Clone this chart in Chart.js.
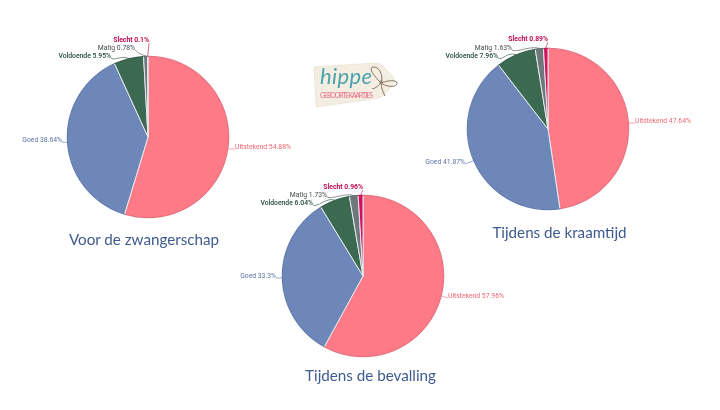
<!DOCTYPE html>
<html><head><meta charset="utf-8">
<script src="https://cdn.jsdelivr.net/npm/chart.js@4"></script>
<style>
html,body{margin:0;padding:0;background:#fff;width:720px;height:410px;overflow:hidden;position:relative}
canvas{position:absolute;filter:blur(.3px)}
.t{position:absolute;font-family:Lato,sans-serif;color:#3f5a8e;font-size:15.2px;white-space:nowrap;transform:translateX(-50%);line-height:20px}
svg{position:absolute;left:300px;top:50px;filter:blur(.3px)}
</style></head><body>
<canvas id="c1"></canvas><canvas id="c2"></canvas><canvas id="c3"></canvas>
<div class="t" style="left:144px;top:229px" id="t1"></div>
<div class="t" style="left:559.5px;top:222px" id="t2"></div>
<div class="t" style="left:370.5px;top:365px" id="t3"></div>
<svg width="110" height="70" viewBox="300 50 110 70">
 <path d="M314 67 L375 63 Q380 63 384 67 L393 77 Q396 81 392 85 L384 95 Q381 98 376 98.500 L316 107 Z" fill="#f3eee1" stroke="#e2dbc9" stroke-width=".6"/>
 <circle cx="381" cy="82" r="2" fill="#b9b2a4"/>
 <g fill="none" stroke="#8c7560" stroke-width="1">
  <path d="M381 83 C374 76 368 68 373 67 C379 66 384 76 381 83 C386 81 396 79 397 83 C397 88 386 87 381 83 C381 87 383 92 385 96"/>
  <path d="M381 83 C377 87 373 90 372 88"/>
 </g>
 <text x="320" y="84" font-family="Lato" font-style="italic" font-weight="400" font-size="22" fill="#4ba3ac" textLength="52">hippe</text>
 <text x="320" y="98" font-family="Lato" font-size="7" fill="#e86f88" textLength="53">GEBOORTEKAARTJES</text>
</svg>
<script>
const categories = ["Uitstekend","Goed","Voldoende","Matig","Slecht"];
const titles = ["Voor de zwangerschap","Tijdens de kraamtijd","Tijdens de bevalling"];
const voorValues = [54.88,38.64,5.95,0.78,0.1];
const kraamValues = [47.64,41.87,7.96,1.63,0.89];
const bevallingValues = [57.96,33.3,6.04,1.73,0.96];

const fills = ["#ff7a87","#6d87b9","#3b6a50","#6e7779","#d80f5c"];
const rims = ["#e96a76","#5a74a8","#2f5a43","#5c6567","#b50d4d"];
const textColors = ["#ee6673","#5a74a8","#21493a","#444c4e","#c00a52"];
const W = 320, H = 210, R = 81.6;

// label anchors relative to the pie centre: [x, y, side]
const anchors = [
 {cx:148,cy:137,a:[[87,10,1],[-86,3,-1],[-37,-81,-1],[-13,-89,-1],[1,-97,-1]]},
 {cx:548,cy:129,a:[[87,-8,1],[-83,33,-1],[-50,-73,-1],[-36,-81,-1],[0,-90,-1]]},
 {cx:363,cy:276,a:[[85,20,1],[-87,0,-1],[-50,-73,-1],[-36,-81,-1],[0,-89,-1]]}
];

const labelPlugin = {
 id:'pieLabels',
 afterDatasetsDraw(chart, args, opts){
  const ctx = chart.ctx, meta = chart.getDatasetMeta(0), ds = chart.data.datasets[0];
  meta.data.forEach((el,i)=>{
   const p = el.getProps(['x','y','startAngle','endAngle','outerRadius'],true);
   ctx.save();
   ctx.beginPath();
   ctx.arc(p.x,p.y,p.outerRadius-.4,p.startAngle,p.endAngle);
   ctx.strokeStyle = rims[i]; ctx.lineWidth = 1; ctx.stroke();
   const mid = (p.startAngle+p.endAngle)/2;
   const ex = p.x+Math.cos(mid)*p.outerRadius, ey = p.y+Math.sin(mid)*p.outerRadius;
   const [ax,ay,side] = opts.a[i];
   const lx = p.x+ax, ly = p.y+ay;
   ctx.beginPath();
   if(i===4){ ctx.moveTo(lx,ly+3); ctx.lineTo(ex,ey); }
   else if(i<2){ ctx.moveTo(lx,ly+2); ctx.lineTo(ex,ey); }
   else { ctx.moveTo(lx,ly+2);
     ctx.bezierCurveTo(lx+4,ly+5,ex-8,ey-3,ex,ey); }
   ctx.strokeStyle = textColors[i]; ctx.lineWidth = .6; ctx.stroke();
   ctx.font = (i===4?'700 ':(i===2?'500 ':'400 '))+'6.8px Roboto, sans-serif';
   ctx.fillStyle = textColors[i];
   ctx.textBaseline = 'middle';
   ctx.textAlign = side>0?'left':'right';
   ctx.fillText(categories[i]+' '+ds.data[i]+'%', lx, ly);
   ctx.restore();
  });
 }
};

function makePie(id, values, pos, title, tid){
 const cv = document.getElementById(id);
 cv.width = W; cv.height = H;
 cv.style.cssText = `left:${pos.cx-W/2}px;top:${pos.cy-H/2}px;width:${W}px;height:${H}px`;
 document.getElementById(tid).textContent = title;
 new Chart(cv,{
  type:'pie',
  data:{labels:categories,datasets:[{data:values,backgroundColor:fills,borderColor:'#e4e9ef',borderWidth:1}]},
  options:{responsive:false,animation:false,devicePixelRatio:1,
   layout:{padding:{top:H/2-R,bottom:H/2-R,left:0,right:0}},
   plugins:{legend:{display:false},tooltip:{enabled:false},pieLabels:{a:pos.a}}},
  plugins:[labelPlugin]
 });
}
makePie('c1',voorValues,anchors[0],titles[0],'t1');
makePie('c2',kraamValues,anchors[1],titles[1],'t2');
makePie('c3',bevallingValues,anchors[2],titles[2],'t3');
</script>
</body></html>
